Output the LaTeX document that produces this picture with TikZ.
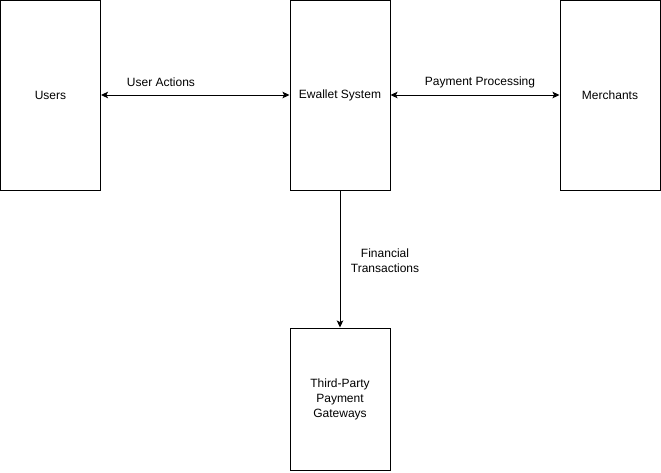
\documentclass[tikz,border=0pt]{standalone}
\usepackage{fontspec}
\setmainfont{Liberation Sans}
\usepackage{tikz}
\usetikzlibrary{arrows.meta,positioning}
\tikzstyle{entity} = [rectangle, draw=black, line width=1pt, fill=white, text=black, text centered, font=\fontsize{12}{15}\selectfont, minimum width=100pt, minimum height=190pt, inner sep=0pt]
\tikzstyle{flowlabel} = [font=\fontsize{12}{15}\selectfont, text=black, align=center, inner sep=0pt]
\tikzstyle{tedge} = [draw, line width=1pt, >={Stealth[length=7pt,width=6.5pt,inset=1.5pt]}, ->]
\tikzstyle{bedge} = [draw, line width=1pt, >={Stealth[length=7pt,width=6.5pt,inset=1.5pt]}, <->]

\begin{document}
\begin{tikzpicture}[x=1pt, y=-1pt]
\useasboundingbox (0,0) rectangle (661,472);

% entities =============================
\node[entity] (users) at (50.5,95) {Users};
\node[entity, right=188.5pt of users] (ewallet) {Ewallet System};
\node[entity, right=169pt of ewallet] (merchants) {Merchants};
\node[entity, below=137pt of ewallet, minimum height=142pt, text width=90pt] (gateways) {Third-Party\\Payment\\Gateways};

% labels
\node[flowlabel] (useract) at (161,82) {User Actions};
\node[flowlabel] (payproc) at (480,82) {Payment Processing};
\node[flowlabel] (fintrans) at (385,260.5) {Financial\\Transactions};

%edges
\path[bedge] (users) -- (ewallet);
\path[bedge] (ewallet) -- (merchants);
\path[tedge] (ewallet) -- (gateways);

\end{tikzpicture}
\end{document}
